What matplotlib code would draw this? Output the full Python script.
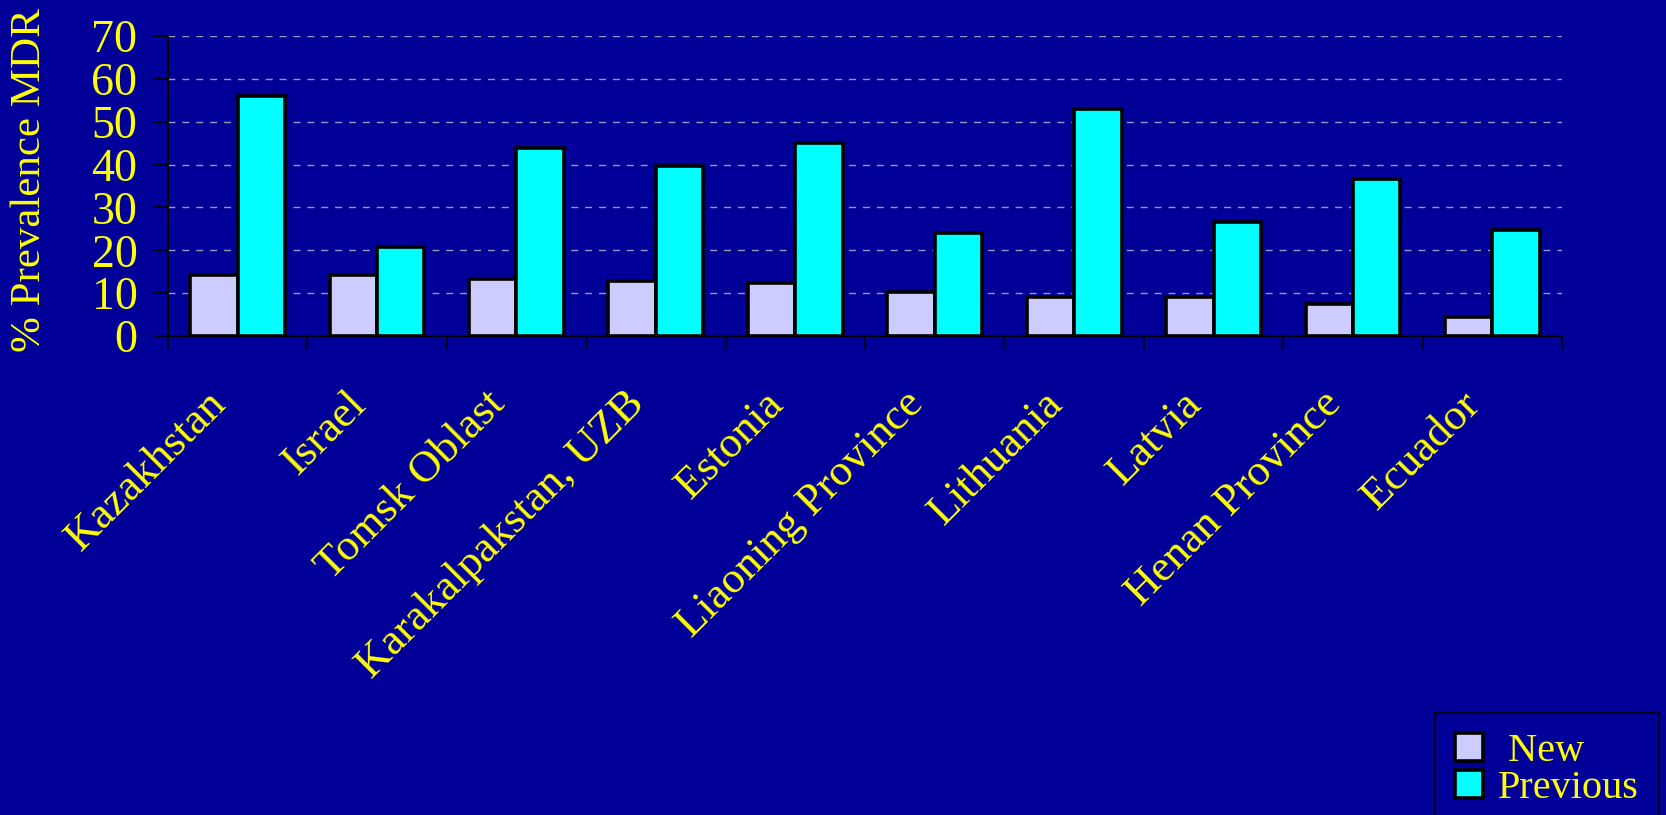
import matplotlib
matplotlib.use("Agg")
import matplotlib.pyplot as plt
import matplotlib.transforms as mtransforms
import numpy as np

categories = ["Kazakhstan", "Israel", "Tomsk Oblast", "Karakalpakstan, UZB", "Estonia",
              "Liaoning Province", "Lithuania", "Latvia", "Henan Province", "Ecuador"]
new_vals = [14.3, 14.3, 13.4, 12.9, 12.3, 10.3, 9.0, 9.0, 7.5, 4.4]
prev_vals = [56.0, 20.8, 43.8, 39.7, 45.1, 24.1, 52.9, 26.7, 36.6, 24.7]
yticks = [0, 10, 20, 30, 40, 50, 60, 70]
series_labels = [" New", "Previous"]

BG = "#000099"
YEL = "#FFFF00"
plt.rcParams['font.family'] = ['Liberation Serif', 'DejaVu Serif']

fig = plt.figure(figsize=(16.66, 8.15), dpi=100, facecolor=BG)
ax = fig.add_axes([0.1008, 0.5877, 0.8368, 0.3681], facecolor=BG)

x = np.arange(len(categories))
w = 0.34
ax.bar(x - w/2, new_vals, w, color="#CCCCFF", edgecolor="black", linewidth=2.6,
       label=series_labels[0], zorder=3)
ax.bar(x + w/2, prev_vals, w, color="#00FFFF", edgecolor="black", linewidth=2.6,
       label=series_labels[1], zorder=3)

ax.set_xlim(-0.5, len(categories) - 0.5)
ax.set_ylim(0, 70)
ax.set_yticks(yticks)
ax.set_yticklabels([str(v) for v in yticks], color=YEL, fontsize=33)
ax.tick_params(axis='y', length=10, width=1.2, color='black', pad=12)
ax.set_xticks(np.arange(len(categories) + 1) - 0.5, minor=True)
ax.set_xticks(x)
ax.set_xticklabels(categories, rotation=45, ha='right', rotation_mode='anchor',
                   color=YEL, fontsize=32)
ax.tick_params(axis='x', which='major', length=0, pad=22)
ax.tick_params(axis='x', which='minor', length=10, width=1.2, color='black')
offset = mtransforms.ScaledTranslation(-32/100, -17/100, fig.dpi_scale_trans)
for lbl in ax.get_xticklabels():
    lbl.set_transform(lbl.get_transform() + offset)
ax.yaxis.grid(True, linestyle=(0, (5, 5)), color="#9898C8", linewidth=1.0, zorder=0)
ax.set_axisbelow(True)
for s in ['top', 'right']:
    ax.spines[s].set_visible(False)
for s in ['left', 'bottom']:
    ax.spines[s].set_color('black')
    ax.spines[s].set_linewidth(1.5)

fig.text(30/1666, 1 - 352/815, "% Prevalence MDR", rotation=90, ha='center', va='bottom',
         color=YEL, fontsize=31)

leg = fig.legend(loc='upper left', bbox_to_anchor=(1435/1666, 1 - 713/815),
                 borderaxespad=0, fontsize=29, frameon=True, facecolor=BG, edgecolor='black',
                 fancybox=False, handlelength=0.68, handleheight=0.68, handletextpad=0.38,
                 labelspacing=0.0, borderpad=0.5)
leg.get_frame().set_linewidth(1.5)
for t in leg.get_texts():
    t.set_color(YEL)

fig.savefig("out.png", dpi=100, facecolor=BG)
